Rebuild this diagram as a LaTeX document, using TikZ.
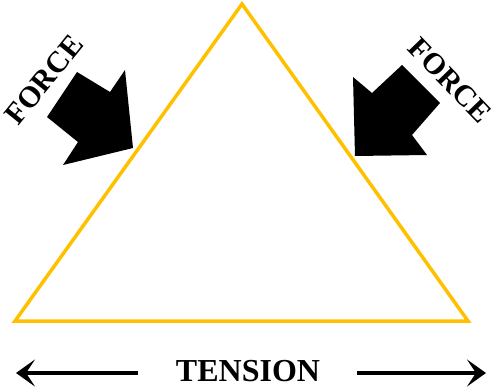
\documentclass[tikz,border=0pt]{standalone}
\usepackage{fontspec}
\setmainfont{Liberation Serif}
\usetikzlibrary{arrows.meta}
\definecolor{tri}{HTML}{FFC000}
\tikzset{
  lbl/.style={font=\bfseries\fontsize{30}{30}\selectfont, inner sep=0pt},
  tlbl/.style={font=\bfseries\fontsize{32}{32}\selectfont, inner sep=0pt},
  blockarrow/.style={fill=black, draw=none},
  tarrow/.style={line width=4pt, -{Stealth[length=19pt,width=27pt,inset=9pt]}},
}
\begin{document}
\begin{tikzpicture}[x=1pt,y=-1pt]
\useasboundingbox (0,0) rectangle (493,391);
% triangle
\coordinate (apex) at (242,4);
\coordinate (bl) at (15,321);
\coordinate (br) at (468,321);
\draw[tri, line width=3.5pt, line join=miter] (apex) -- (bl) -- (br) -- cycle;
% left block arrow
\fill[blockarrow] (77,72) -- (110,92) -- (125,70) -- (133,148) -- (63,165) -- (78,142) -- (47,117) -- cycle;
% right block arrow
\fill[blockarrow] (402,65) -- (372,93) -- (353,77) -- (355,156) -- (427,155) -- (412,135) -- (440,103) -- cycle;
% labels
\node[lbl, rotate=51] (fl) at (44,80) {FORCE};
\node[lbl, rotate=-46] (fr) at (450,80) {FORCE};
\node[tlbl, anchor=base] (ten) at (248,381) {TENSION};
% tension arrows
\coordinate (la) at (138,373);
\coordinate (lt) at (16,373);
\coordinate (ra) at (357,373);
\coordinate (rt) at (486,373);
\draw[tarrow] (la) -- (lt);
\draw[tarrow] (ra) -- (rt);
\end{tikzpicture}
\end{document}
